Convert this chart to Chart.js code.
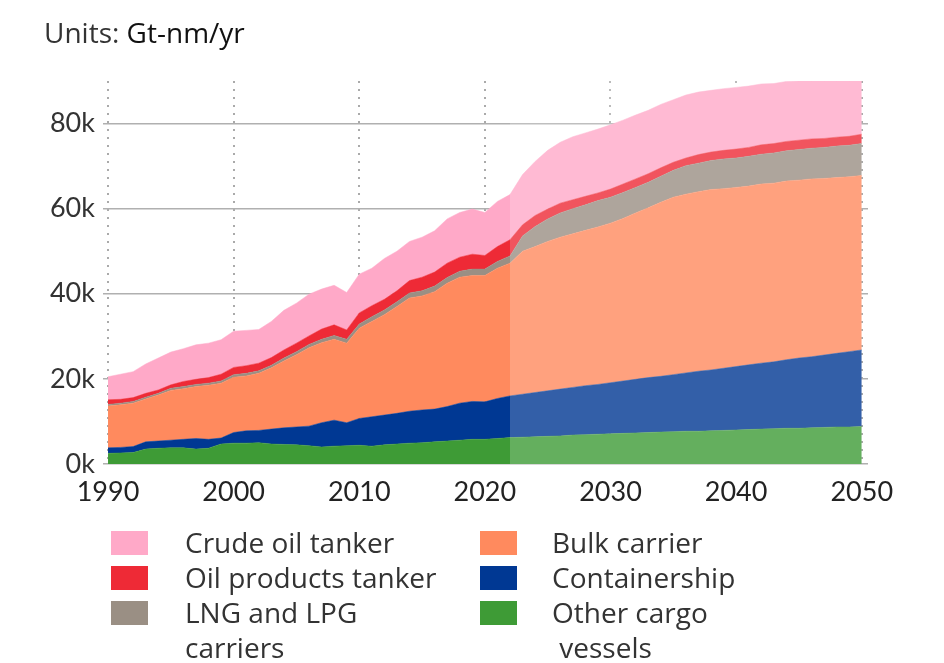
<!DOCTYPE html>
<html><head><meta charset="utf-8">
<script src="https://cdn.jsdelivr.net/npm/chart.js@4/dist/chart.umd.min.js"></script>
<style>
html,body{margin:0;padding:0;background:#fff;}
#wrap{position:relative;width:944px;height:663px;font-family:"Open Sans", Lato, sans-serif;color:#333;overflow:hidden;}
#c{position:absolute;left:0;top:0;}
#title{position:absolute;left:44px;top:14px;font-size:28px;line-height:36px;color:#333;white-space:nowrap;}
#title b{font-weight:normal;color:#111;}
.leg{position:absolute;font-size:28px;line-height:35px;color:#333;white-space:pre;}
.box{position:absolute;width:37px;height:24px;}
</style></head>
<body>
<div id="wrap">
<canvas id="c" width="944" height="663"></canvas>
<div id="title">Units: <b>Gt-nm/yr</b></div>
<div id="legend"></div>
</div>
<script>
// ---- data (thousand Gt-nm/yr) ----
const years = [1990,1991,1992,1993,1994,1995,1996,1997,1998,1999,
2000,2001,2002,2003,2004,2005,2006,2007,2008,2009,
2010,2011,2012,2013,2014,2015,2016,2017,2018,2019,
2020,2021,2022,2023,2024,2025,2026,2027,2028,2029,
2030,2031,2032,2033,2034,2035,2036,2037,2038,2039,
2040,2041,2042,2043,2044,2045,2046,2047,2048,2049,2050];

const otherCargo = [2.5,2.6,2.7,3.5,3.7,3.8,3.8,3.5,3.7,4.7,
4.9,4.9,5.0,4.7,4.6,4.5,4.3,4.0,4.2,4.3,
4.4,4.2,4.5,4.7,4.9,5.0,5.2,5.4,5.6,5.8,
5.8,6.0,6.2,6.3,6.4,6.5,6.6,6.8,6.9,7.0,
7.1,7.2,7.3,7.4,7.5,7.6,7.7,7.7,7.8,7.9,
8.0,8.1,8.2,8.3,8.4,8.4,8.5,8.6,8.7,8.7,8.8];

const containership = [1.3,1.3,1.4,1.7,1.7,1.8,2.0,2.5,2.1,1.4,
2.5,2.9,2.9,3.5,3.9,4.2,4.6,5.7,6.1,5.4,
6.3,6.9,7.0,7.2,7.5,7.7,7.7,8.1,8.7,8.9,
8.8,9.4,9.8,10.1,10.4,10.7,11.0,11.2,11.5,11.7,
12.0,12.3,12.6,12.9,13.1,13.4,13.7,14.1,14.3,14.6,
14.9,15.2,15.5,15.7,16.1,16.5,16.7,17.0,17.3,17.7,18.0];

const bulkCarrier = [9.8,10.0,10.2,10.1,10.8,11.7,11.9,12.2,12.7,12.9,
13.0,12.9,13.4,14.4,15.7,17.0,18.4,18.8,19.0,18.7,
21.2,22.4,23.6,25.1,26.6,26.8,27.6,29.0,29.6,29.6,
29.7,30.6,31.2,33.6,34.3,35.1,35.7,36.1,36.5,37.0,
37.5,38.2,39.1,39.9,40.9,41.7,42.0,42.2,42.4,42.2,
42.1,42.0,42.1,42.0,42.0,41.8,41.8,41.5,41.3,41.1,41.0];

const lngLpg = [0.4,0.4,0.4,0.4,0.4,0.5,0.5,0.5,0.5,0.5,
0.6,0.6,0.6,0.6,0.7,0.7,0.8,0.8,0.9,0.9,
1.0,1.1,1.1,1.1,1.2,1.2,1.3,1.3,1.4,1.5,
1.5,1.6,1.7,3.6,4.7,5.3,5.7,5.9,6.0,6.2,
6.1,6.1,6.0,6.0,6.1,6.3,6.7,6.7,6.8,7.0,
6.9,7.0,7.0,7.1,7.1,7.2,7.2,7.3,7.4,7.4,7.5];

const oilProducts = [1.1,0.9,0.9,0.9,0.8,0.8,1.2,1.2,1.3,1.6,
1.7,1.8,1.8,1.8,1.9,2.0,2.0,2.4,2.5,2.2,
2.6,2.6,2.5,2.6,2.9,3.2,3.3,3.4,3.3,3.5,
3.2,3.5,3.8,2.6,2.6,2.3,2.3,2.1,2.0,1.8,
1.9,2.0,2.0,2.0,2.0,1.9,1.8,2.0,2.0,2.0,
2.1,2.1,2.2,2.2,2.2,2.2,2.2,2.1,2.1,2.1,2.2];

const crudeOil = [5.4,5.9,6.1,6.9,7.5,7.7,7.7,8.1,8.1,8.1,
8.5,8.3,7.9,8.5,9.3,9.4,9.8,9.4,9.3,8.8,
9.1,8.8,9.6,9.3,9.2,9.4,9.7,10.4,10.5,10.6,
10.1,10.6,10.6,11.8,12.7,13.8,14.3,14.8,14.9,15.0,
15.1,15.0,15.0,14.9,14.9,14.7,14.8,14.7,14.5,14.5,
14.5,14.4,14.3,14.1,14.1,13.9,13.6,13.5,13.2,13.0,12.5];

const xTicks = [1990,2000,2010,2020,2030,2040,2050];
const yTicks = [0,20,40,60,80];
const projectionStart = 2022;

// stack order bottom -> top
const seriesNames = ["Other cargo vessels","Containership","Bulk carrier","LNG and LPG carriers","Oil products tanker","Crude oil tanker"];
const seriesValues = [otherCargo, containership, bulkCarrier, lngLpg, oilProducts, crudeOil];
const seriesColors = ["#3e9b36","#003893","#ff8a5e","#9a8f84","#ee2a36","#ffa9c8"];

// ---- legend (HTML text) ----
const legendItems = [
  {name:"Crude oil tanker", color:seriesColors[5], col:0, row:0},
  {name:"Oil products tanker", color:seriesColors[4], col:0, row:1},
  {name:"LNG and LPG\ncarriers", color:seriesColors[3], col:0, row:2},
  {name:"Bulk carrier", color:seriesColors[2], col:1, row:0},
  {name:"Containership", color:seriesColors[1], col:1, row:1},
  {name:"Other cargo\n vessels", color:seriesColors[0], col:1, row:2}
];
const legEl = document.getElementById('legend');
const boxX = [111, 480], textX = [185, 552], rowY = [543, 578, 613];
legendItems.forEach(it => {
  const b = document.createElement('div');
  b.className = 'box';
  b.style.left = boxX[it.col] + 'px';
  b.style.top = (rowY[it.row] - 12) + 'px';
  b.style.background = it.color;
  legEl.appendChild(b);
  const t = document.createElement('div');
  t.className = 'leg';
  t.style.left = textX[it.col] + 'px';
  t.style.top = (rowY[it.row] - 18) + 'px';
  t.textContent = it.name;
  legEl.appendChild(t);
});

// ---- chart ----
const datasets = seriesValues.map((vals, i) => ({
  label: seriesNames[i],
  data: years.map((yr, j) => ({x: yr, y: vals[j]})),
  backgroundColor: seriesColors[i],
  borderColor: seriesColors[i],
  borderWidth: 0.5,
  pointRadius: 0,
  tension: 0,
  fill: i === 0 ? 'origin' : '-1'
}));

const projectionShade = {
  id: 'projectionShade',
  afterDatasetsDraw(chart) {
    const {ctx, chartArea, scales} = chart;
    const x0 = scales.x.getPixelForValue(projectionStart);
    const x1 = scales.x.getPixelForValue(years[years.length - 1]);
    ctx.save();
    ctx.fillStyle = 'rgba(255,255,255,0.2)';
    ctx.fillRect(x0, chartArea.top, x1 - x0, chartArea.bottom - chartArea.top);
    ctx.restore();
  }
};

new Chart(document.getElementById('c'), {
  type: 'line',
  data: {datasets},
  plugins: [projectionShade],
  options: {
    responsive: false,
    animation: false,
    devicePixelRatio: 1,
    layout: {padding: {top: 81, right: 76, bottom: 159, left: 0}},
    plugins: {legend: {display: false}, tooltip: {enabled: false}, title: {display: false}},
    elements: {line: {borderJoinStyle: 'round'}},
    scales: {
      x: {
        type: 'linear',
        min: 1989.6,
        max: 2050.5,
        z: 1,
        afterBuildTicks: ax => { ax.ticks = xTicks.map(v => ({value: v})); },
        afterFit: ax => { ax.height = 40; },
        ticks: {
          autoSkip: false, maxRotation: 0, padding: 12,
          color: '#222', font: {family: 'Lato', size: 27},
          callback: v => String(v)
        },
        grid: {color: '#aaaaaa', lineWidth: 2, drawTicks: false},
        border: {display: false, dash: [2, 6]}
      },
      y: {
        stacked: true,
        min: 0,
        max: 90,
        z: 1,
        afterBuildTicks: ax => { ax.ticks = yTicks.map(v => ({value: v})); },
        afterFit: ax => { ax.width = 103; },
        ticks: {
          padding: 8,
          color: '#333', font: {family: 'Lato', size: 27},
          callback: v => v + 'k'
        },
        grid: {color: '#b0b0b0', lineWidth: 1.5, drawTicks: false},
        border: {display: false}
      }
    }
  }
});
</script>
</body></html>
